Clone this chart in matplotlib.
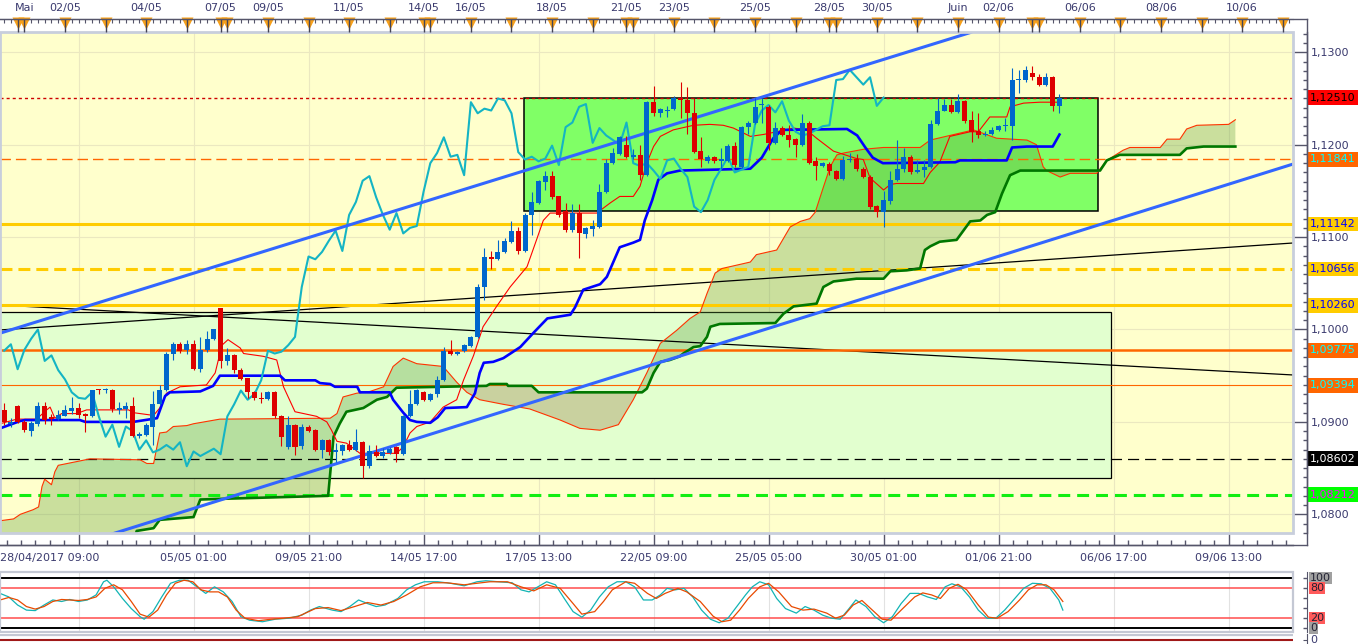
import numpy as np
import matplotlib
matplotlib.use('Agg')
import matplotlib.pyplot as plt
import matplotlib.ticker as mticker
import matplotlib.transforms as mtransforms
from matplotlib.lines import Line2D
from matplotlib.patches import Rectangle

plt.rcParams['font.family'] = ['DejaVu Sans']
plt.rcParams['lines.scale_dashes'] = False

# ---- 4h candles, index 0 = first bar on screen
opens = [1.0913, 1.0898, 1.0917, 1.0900, 1.0890, 1.0898, 1.0917, 1.0905, 1.0903, 1.0906,
         1.0912, 1.0915, 1.0909, 1.0906, 1.0935, 1.0934, 1.0935, 1.0913, 1.0914, 1.0917,
         1.0885, 1.0886, 1.0895, 1.0919, 1.0934, 1.0973, 1.0984, 1.0978, 1.0984, 1.0957,
         1.0978, 1.0990, 1.1023, 1.0966, 1.0972, 1.0956, 1.0947, 1.0932, 1.0926, 1.0925,
         1.0932, 1.0906, 1.0873, 1.0897, 1.0874, 1.0895, 1.0891, 1.0870, 1.0880, 1.0867,
         1.0868, 1.0875, 1.0870, 1.0878, 1.0852, 1.0867, 1.0863, 1.0866, 1.0873, 1.0865,
         1.0906, 1.0919, 1.0932, 1.0924, 1.0930, 1.0945, 1.0977, 1.0974, 1.0977, 1.0982,
         1.0992, 1.1046, 1.1078, 1.1076, 1.1084, 1.1095, 1.1107, 1.1085, 1.1124, 1.1137,
         1.1160, 1.1166, 1.1144, 1.1128, 1.1108, 1.1126, 1.1103, 1.1109, 1.1111, 1.1149,
         1.1180, 1.1190, 1.1200, 1.1187, 1.1189, 1.1167, 1.1246, 1.1234, 1.1236, 1.1239,
         1.1250, 1.1248, 1.1234, 1.1193, 1.1182, 1.1187, 1.1182, 1.1182, 1.1199, 1.1176,
         1.1219, 1.1223, 1.1243, 1.1241, 1.1202, 1.1218, 1.1211, 1.1206, 1.1200, 1.1224,
         1.1182, 1.1177, 1.1179, 1.1172, 1.1163, 1.1183, 1.1185, 1.1174, 1.1165, 1.1134,
         1.1127, 1.1139, 1.1162, 1.1174, 1.1187, 1.1170, 1.1173, 1.1176, 1.1222, 1.1237,
         1.1243, 1.1235, 1.1247, 1.1227, 1.1215, 1.1210, 1.1212, 1.1216, 1.1220, 1.1220,
         1.1270, 1.1270, 1.1278, 1.1273, 1.1265, 1.1273, 1.1242]
highs = [1.0920, 1.0904, 1.0918, 1.0902, 1.0901, 1.0922, 1.0921, 1.0909, 1.0913, 1.0918,
         1.0927, 1.0920, 1.0910, 1.0935, 1.0936, 1.0937, 1.0936, 1.0921, 1.0922, 1.0927,
         1.0889, 1.0899, 1.0933, 1.0940, 1.0976, 1.0987, 1.0986, 1.0989, 1.0989, 1.0992,
         1.0998, 1.1001, 1.1023, 1.0980, 1.0974, 1.0958, 1.0948, 1.0933, 1.0932, 1.0933,
         1.0933, 1.0907, 1.0906, 1.0898, 1.0898, 1.0897, 1.0892, 1.0882, 1.0882, 1.0877,
         1.0876, 1.0880, 1.0892, 1.0879, 1.0875, 1.0875, 1.0872, 1.0873, 1.0874, 1.0907,
         1.0935, 1.0936, 1.0933, 1.0931, 1.0950, 1.0981, 1.0989, 1.0977, 1.0984, 1.0993,
         1.1049, 1.1088, 1.1085, 1.1097, 1.1099, 1.1117, 1.1111, 1.1126, 1.1149, 1.1162,
         1.1171, 1.1172, 1.1145, 1.1137, 1.1136, 1.1136, 1.1111, 1.1119, 1.1158, 1.1185,
         1.1196, 1.1209, 1.1209, 1.1195, 1.1200, 1.1247, 1.1264, 1.1240, 1.1242, 1.1253,
         1.1268, 1.1262, 1.1250, 1.1208, 1.1189, 1.1188, 1.1196, 1.1201, 1.1203, 1.1220,
         1.1226, 1.1250, 1.1250, 1.1243, 1.1225, 1.1220, 1.1221, 1.1207, 1.1233, 1.1226,
         1.1187, 1.1181, 1.1181, 1.1173, 1.1188, 1.1191, 1.1190, 1.1176, 1.1167, 1.1135,
         1.1150, 1.1172, 1.1205, 1.1196, 1.1189, 1.1183, 1.1183, 1.1227, 1.1250, 1.1249,
         1.1249, 1.1255, 1.1248, 1.1236, 1.1234, 1.1215, 1.1219, 1.1221, 1.1229, 1.1283,
         1.1281, 1.1285, 1.1285, 1.1277, 1.1278, 1.1274, 1.1255]
lows = [1.0897, 1.0895, 1.0899, 1.0889, 1.0885, 1.0896, 1.0898, 1.0897, 1.0902, 1.0906,
        1.0909, 1.0904, 1.0889, 1.0905, 1.0930, 1.0931, 1.0911, 1.0909, 1.0904, 1.0884,
        1.0883, 1.0885, 1.0875, 1.0918, 1.0933, 1.0967, 1.0975, 1.0974, 1.0956, 1.0954,
        1.0976, 1.0989, 1.0958, 1.0962, 1.0953, 1.0945, 1.0926, 1.0924, 1.0920, 1.0924,
        1.0904, 1.0874, 1.0871, 1.0864, 1.0871, 1.0889, 1.0869, 1.0861, 1.0864, 1.0857,
        1.0864, 1.0868, 1.0868, 1.0839, 1.0850, 1.0862, 1.0861, 1.0865, 1.0857, 1.0864,
        1.0905, 1.0918, 1.0923, 1.0923, 1.0927, 1.0944, 1.0972, 1.0972, 1.0976, 1.0981,
        1.0991, 1.1032, 1.1066, 1.1075, 1.1083, 1.1094, 1.1082, 1.1084, 1.1102, 1.1136,
        1.1151, 1.1141, 1.1122, 1.1106, 1.1106, 1.1077, 1.1099, 1.1101, 1.1110, 1.1148,
        1.1179, 1.1189, 1.1186, 1.1184, 1.1162, 1.1166, 1.1231, 1.1230, 1.1230, 1.1238,
        1.1229, 1.1212, 1.1191, 1.1176, 1.1180, 1.1180, 1.1174, 1.1181, 1.1176, 1.1175,
        1.1212, 1.1222, 1.1223, 1.1194, 1.1201, 1.1209, 1.1198, 1.1187, 1.1199, 1.1179,
        1.1162, 1.1176, 1.1167, 1.1162, 1.1162, 1.1181, 1.1172, 1.1164, 1.1130, 1.1122,
        1.1111, 1.1136, 1.1161, 1.1170, 1.1168, 1.1169, 1.1165, 1.1175, 1.1221, 1.1236,
        1.1234, 1.1234, 1.1223, 1.1203, 1.1207, 1.1209, 1.1211, 1.1215, 1.1215, 1.1205,
        1.1256, 1.1268, 1.1270, 1.1264, 1.1264, 1.1236, 1.1234]
closes = [1.0900, 1.0900, 1.0900, 1.0891, 1.0899, 1.0917, 1.0902, 1.0903, 1.0907, 1.0913,
          1.0915, 1.0907, 1.0906, 1.0934, 1.0934, 1.0935, 1.0914, 1.0915, 1.0917, 1.0885,
          1.0887, 1.0897, 1.0919, 1.0935, 1.0973, 1.0984, 1.0977, 1.0984, 1.0957, 1.0978,
          1.0990, 1.1000, 1.0966, 1.0972, 1.0956, 1.0946, 1.0932, 1.0926, 1.0925, 1.0932,
          1.0906, 1.0884, 1.0897, 1.0873, 1.0895, 1.0890, 1.0870, 1.0880, 1.0867, 1.0870,
          1.0875, 1.0870, 1.0878, 1.0852, 1.0868, 1.0863, 1.0867, 1.0871, 1.0865, 1.0906,
          1.0919, 1.0934, 1.0924, 1.0930, 1.0945, 1.0977, 1.0974, 1.0976, 1.0983, 1.0992,
          1.1046, 1.1079, 1.1076, 1.1084, 1.1096, 1.1107, 1.1085, 1.1124, 1.1138, 1.1161,
          1.1166, 1.1143, 1.1124, 1.1108, 1.1126, 1.1104, 1.1110, 1.1112, 1.1149, 1.1180,
          1.1191, 1.1208, 1.1187, 1.1189, 1.1167, 1.1246, 1.1234, 1.1239, 1.1237, 1.1250,
          1.1248, 1.1234, 1.1192, 1.1184, 1.1187, 1.1182, 1.1185, 1.1199, 1.1178, 1.1219,
          1.1224, 1.1241, 1.1244, 1.1202, 1.1218, 1.1210, 1.1205, 1.1200, 1.1224, 1.1180,
          1.1177, 1.1180, 1.1172, 1.1163, 1.1183, 1.1185, 1.1174, 1.1165, 1.1133, 1.1127,
          1.1140, 1.1162, 1.1174, 1.1187, 1.1170, 1.1173, 1.1176, 1.1222, 1.1237, 1.1243,
          1.1235, 1.1247, 1.1226, 1.1214, 1.1210, 1.1212, 1.1216, 1.1220, 1.1221, 1.1270,
          1.1271, 1.1281, 1.1273, 1.1265, 1.1273, 1.1242, 1.1251]

# ---- ichimoku lines: (bar index, price)
tenkan_pts = [(-0.6, 1.0898), (1.9, 1.0903), (4.8, 1.0903), (6.3, 1.0913), (6.8, 1.0916), (7.5, 1.0904),
              (8.5, 1.0909), (10.7, 1.0909), (12.2, 1.0913), (18.4, 1.0913), (19.1, 1.0910), (22.1, 1.0907),
              (23.0, 1.0915), (24.0, 1.0931), (26.0, 1.0938), (29.9, 1.0940), (31.2, 1.0953), (32.2, 1.0983),
              (33.1, 1.0989), (34.9, 1.0980), (35.4, 1.0974), (38.3, 1.0971), (40.3, 1.0967), (41.3, 1.0938),
              (43.0, 1.0911), (46.2, 1.0906), (47.7, 1.0900), (48.4, 1.0891), (49.2, 1.0879), (50.6, 1.0877),
              (52.6, 1.0866), (58.0, 1.0866), (59.0, 1.0873), (60.0, 1.0888), (61.0, 1.0895), (63.0, 1.0900),
              (64.9, 1.0916), (66.9, 1.0924), (67.9, 1.0945), (69.4, 1.0972), (70.8, 1.1003), (72.8, 1.1025),
              (74.8, 1.1046), (77.3, 1.1068), (78.7, 1.1097), (79.7, 1.1118), (80.7, 1.1126), (87.6, 1.1126),
              (89.6, 1.1137), (91.0, 1.1144), (93.0, 1.1144), (94.0, 1.1155), (95.0, 1.1180), (96.0, 1.1198),
              (97.0, 1.1209), (98.9, 1.1216), (101.9, 1.1221), (104.3, 1.1222), (106.3, 1.1221), (107.8, 1.1218),
              (110.3, 1.1209), (112.2, 1.1211), (114.2, 1.1214), (116.7, 1.1218), (118.6, 1.1216), (120.1, 1.1207),
              (122.6, 1.1193), (126.0, 1.1185), (127.0, 1.1184), (128.0, 1.1164), (130.0, 1.1151), (131.0, 1.1157),
              (131.9, 1.1158), (135.9, 1.1158), (136.9, 1.1170), (138.3, 1.1181), (139.8, 1.1209), (142.8, 1.1214),
              (144.0, 1.1214), (145.7, 1.1230), (148.2, 1.1230), (148.7, 1.1241), (150.7, 1.1245), (153.1, 1.1246),
              (156.0, 1.1246)]
kijun_pts = [(-0.6, 1.0893), (2.4, 1.0901), (3.1, 1.0902), (11.2, 1.0902), (12.0, 1.0900), (19.1, 1.0900),
             (22.6, 1.0904), (23.8, 1.0928), (24.5, 1.0932), (29.0, 1.0933), (30.9, 1.0939), (31.9, 1.0950),
             (40.8, 1.0950), (41.5, 1.0945), (46.0, 1.0945), (46.7, 1.0942), (48.2, 1.0941), (48.9, 1.0938),
             (52.2, 1.0938), (52.6, 1.0932), (57.0, 1.0932), (57.5, 1.0924), (59.0, 1.0910), (60.0, 1.0902),
             (61.0, 1.0900), (63.0, 1.0899), (64.1, 1.0905), (65.2, 1.0915), (68.4, 1.0916), (69.6, 1.0931),
             (70.3, 1.0953), (70.9, 1.0964), (72.3, 1.0965), (73.8, 1.0969), (76.3, 1.0981), (78.2, 1.0996),
             (80.3, 1.1012), (83.7, 1.1016), (84.4, 1.1024), (85.6, 1.1043), (88.1, 1.1049), (89.1, 1.1057),
             (91.0, 1.1089), (93.0, 1.1094), (94.0, 1.1097), (94.7, 1.1118), (95.8, 1.1140), (96.7, 1.1162),
             (98.0, 1.1169), (99.9, 1.1172), (110.3, 1.1174), (112.0, 1.1186), (113.7, 1.1207), (115.0, 1.1216),
             (124.6, 1.1217), (126.1, 1.1210), (127.3, 1.1197), (128.4, 1.1186), (129.9, 1.1180), (140.6, 1.1181),
             (141.3, 1.1183), (148.2, 1.1183), (149.0, 1.1197), (151.2, 1.1198), (155.0, 1.1198), (156.0, 1.1211)]
senkou_a_pts = [(-0.6, 1.0793), (1.4, 1.0795), (2.4, 1.0800), (4.3, 1.0805), (5.1, 1.0808), (5.6, 1.0830),
                (6.0, 1.0838), (7.0, 1.0832), (7.5, 1.0846), (8.0, 1.0853), (10.7, 1.0857), (12.7, 1.0860),
                (20.1, 1.0859), (21.1, 1.0855), (22.1, 1.0855), (23.0, 1.0888), (24.0, 1.0889), (25.0, 1.0895),
                (27.0, 1.0896), (28.0, 1.0898), (31.9, 1.0903), (48.2, 1.0904), (49.2, 1.0909), (50.1, 1.0927),
                (52.1, 1.0931), (54.1, 1.0933), (56.1, 1.0938), (57.5, 1.0960), (59.0, 1.0969), (61.0, 1.0963),
                (64.9, 1.0960), (66.9, 1.0943), (68.4, 1.0932), (70.3, 1.0924), (73.8, 1.0919), (77.7, 1.0914),
                (82.2, 1.0902), (85.1, 1.0893), (88.1, 1.0891), (90.8, 1.0897), (93.0, 1.0924), (95.0, 1.0953),
                (97.0, 1.0985), (99.4, 1.0999), (101.4, 1.1012), (102.9, 1.1019), (103.9, 1.1039), (105.1, 1.1061),
                (106.1, 1.1066), (110.3, 1.1073), (111.2, 1.1081), (114.2, 1.1086), (116.2, 1.1111), (117.7, 1.1117),
                (119.1, 1.1120), (119.9, 1.1127), (121.1, 1.1154), (122.1, 1.1176), (123.1, 1.1189), (124.1, 1.1191),
                (127.0, 1.1195), (130.0, 1.1197), (135.4, 1.1197), (136.9, 1.1205), (139.8, 1.1210), (143.3, 1.1216),
                (146.7, 1.1207), (151.2, 1.1205), (152.6, 1.1200), (153.6, 1.1176), (154.1, 1.1172), (156.1, 1.1165),
                (157.6, 1.1169), (161.5, 1.1169), (163.0, 1.1183), (165.4, 1.1194), (166.4, 1.1197), (170.9, 1.1197),
                (171.9, 1.1206), (173.8, 1.1206), (174.8, 1.1217), (176.3, 1.1221), (181.0, 1.1222), (182.0, 1.1227)]
senkou_b_pts = [(-0.6, 1.0760), (19.0, 1.0766), (19.6, 1.0782), (22.1, 1.0785), (23.0, 1.0794), (28.0, 1.0797),
                (29.0, 1.0816), (33.4, 1.0817), (47.9, 1.0820), (48.2, 1.0844), (48.7, 1.0884), (49.6, 1.0898),
                (50.6, 1.0911), (53.1, 1.0915), (55.1, 1.0924), (56.6, 1.0927), (58.0, 1.0937), (71.3, 1.0939),
                (71.8, 1.0941), (74.3, 1.0941), (74.5, 1.0939), (78.0, 1.0939), (79.0, 1.0932), (94.3, 1.0932),
                (95.0, 1.0936), (96.0, 1.0953), (97.0, 1.0965), (98.4, 1.0967), (99.9, 1.0971), (100.4, 1.0974),
                (101.9, 1.0981), (102.9, 1.0982), (103.9, 1.0992), (104.4, 1.1003), (105.8, 1.1006), (114.0, 1.1007),
                (115.2, 1.1017), (116.7, 1.1025), (120.1, 1.1028), (121.1, 1.1046), (122.6, 1.1052), (126.0, 1.1055),
                (130.0, 1.1055), (131.0, 1.1063), (133.4, 1.1064), (135.4, 1.1066), (136.1, 1.1086), (136.9, 1.1090),
                (138.3, 1.1095), (140.8, 1.1097), (142.8, 1.1117), (144.3, 1.1118), (145.3, 1.1124), (146.5, 1.1127),
                (147.5, 1.1147), (148.7, 1.1167), (150.2, 1.1172), (162.0, 1.1172), (163.0, 1.1183), (164.9, 1.1189),
                (173.8, 1.1189), (174.8, 1.1196), (177.3, 1.1198), (182.0, 1.1198)]
chikou_shift = 26

# ---- drawn objects
upper_trend = [(-0.6, 1.0996), (143.1, 1.1322)]
lower_trend = [(15.65, 1.0778), (190.5, 1.1179)]
rising_line = [(-0.6, 1.09995), (190.5, 1.10936)]
falling_line = [(-0.6, 1.10265), (190.5, 1.09508)]
box_bright = (76.9, 161.7, 1.11282, 1.12502)
box_pale = (-5.0, 163.6, 1.08390, 1.10186)

levels = [1.12510, 1.11841, 1.11142, 1.10656, 1.10260, 1.09775, 1.09394, 1.08602, 1.08212]
level_colors = ['#cc0000', '#ff6600', '#ffcc00', '#ffcc00', '#ffcc00', '#ff6600', '#ff6600', '#000000', '#11ee11']
level_widths = [1.0, 1.0, 2.2, 2.2, 2.2, 1.8, 0.8, 0.9, 2.2]
level_dashes = [(2.2, 2.2), (7.5, 3.6), None, (8.6, 4.3), None, None, None, (8.0, 4.3), (8.6, 5.0)]
box_face = ['#ff0000', '#ff6600', '#ffcc00', '#ffcc00', '#ffcc00', '#ff6600', '#ff6600', '#000000', '#00ff00']
box_text = ['#000000', '#00ffff', '#0000ff', '#0000ff', '#0000ff', '#00ffff', '#00ffff', '#ffffff', '#ff00ff']

price_ticks = [1.08, 1.09, 1.10, 1.11, 1.12, 1.13]
grid_idx = [11, 28, 45, 62, 79, 96, 113, 130, 147, 164, 181]
bottom_labels = ['', '05/05 01:00', '09/05 21:00', '14/05 17:00', '17/05 13:00', '22/05 09:00',
                 '25/05 05:00', '30/05 01:00', '01/06 21:00', '06/06 17:00', '09/06 13:00']
first_label = '28/04/2017 09:00'
day_starts = [2, 3, 9, 15, 21, 27, 32, 33, 39, 45, 51, 57, 62, 63, 69, 75, 81, 87, 92, 93, 99, 105,
              111, 117, 122, 123, 129, 135, 141, 147, 152, 153, 159, 165, 171, 177, 183, 189]
day_labels = {3: 'Mai', 9: '02/05', 21: '04/05', 32: '07/05', 39: '09/05', 51: '11/05', 62: '14/05',
              69: '16/05', 81: '18/05', 92: '21/05', 99: '23/05', 111: '25/05', 122: '28/05',
              129: '30/05', 141: 'Juin', 147: '02/06', 159: '06/06', 171: '08/06', 183: '10/06'}

# ---- stochastic (%K, %D)
stoch_k_pts = [(-0.6, 69), (0.7, 62), (2.0, 46), (3.3, 36), (4.6, 35), (5.9, 46), (7.2, 56), (8.5, 53),
               (9.7, 57), (11.0, 53), (12.3, 56), (13.6, 66), (14.7, 92), (15.2, 95), (16.2, 82), (17.5, 59),
               (18.8, 39), (20.1, 23), (20.7, 18), (22.0, 33), (23.3, 62), (24.6, 89), (25.9, 95), (27.2, 95),
               (28.5, 82), (29.8, 69), (31.1, 82), (32.4, 72), (33.7, 53), (35.0, 23), (36.3, 16), (38.2, 13),
               (40.1, 18), (42.1, 20), (44.0, 26), (45.3, 36), (46.6, 43), (48.5, 36), (49.8, 33), (51.1, 43),
               (52.4, 56), (53.7, 49), (55.0, 43), (56.3, 46), (58.2, 59), (59.5, 76), (60.8, 86), (62.1, 92),
               (64.1, 92), (66.0, 89), (68.0, 84), (69.9, 92), (71.2, 94), (73.1, 92), (75.1, 90), (76.4, 76),
               (77.6, 72), (78.9, 82), (80.2, 92), (81.5, 86), (82.8, 59), (84.1, 33), (85.4, 22), (86.7, 36),
               (88.0, 62), (89.3, 82), (90.6, 92), (91.9, 92), (93.2, 82), (94.5, 56), (95.8, 56), (97.0, 66),
               (98.0, 79), (99.2, 76), (100.5, 79), (101.8, 62), (103.1, 36), (104.4, 18), (105.7, 11), (107.0, 20),
               (108.3, 43), (109.6, 66), (110.6, 82), (111.7, 92), (113.0, 86), (114.2, 59), (115.5, 39), (117.1, 30),
               (118.4, 43), (119.7, 36), (121.0, 26), (122.3, 20), (123.6, 18), (124.9, 39), (125.9, 56), (127.4, 43),
               (128.7, 23), (130.0, 11), (131.3, 23), (132.6, 49), (133.9, 69), (135.2, 69), (136.5, 62), (137.8, 57),
               (139.1, 82), (140.1, 88), (141.4, 82), (142.7, 62), (144.0, 36), (145.3, 20), (146.6, 20), (147.9, 36),
               (149.4, 59), (150.7, 79), (152.0, 89), (153.3, 88), (154.6, 79), (155.9, 56), (156.5, 36)]
stoch_d_pts = [(-0.6, 56), (0.7, 61), (2.0, 56), (3.3, 43), (4.6, 38), (5.9, 43), (7.2, 53), (8.5, 57),
               (9.7, 56), (11.0, 55), (12.3, 57), (13.6, 62), (14.9, 79), (16.2, 86), (17.5, 76), (18.8, 53),
               (20.1, 28), (21.4, 22), (22.7, 36), (24.0, 66), (25.3, 89), (26.6, 95), (27.9, 92), (29.1, 76),
               (30.4, 72), (31.7, 72), (33.0, 62), (34.3, 36), (35.6, 20), (37.6, 15), (39.5, 18), (41.4, 20),
               (43.4, 23), (44.7, 31), (46.0, 39), (47.9, 41), (49.8, 35), (51.8, 43), (53.7, 51), (55.7, 46),
               (57.6, 53), (59.5, 66), (61.5, 82), (63.4, 90), (65.4, 90), (68.0, 86), (69.9, 89), (71.8, 92),
               (74.4, 92), (76.4, 82), (78.3, 74), (80.2, 86), (82.2, 79), (84.1, 49), (85.4, 28), (87.3, 33),
               (88.6, 53), (89.9, 76), (91.9, 92), (93.2, 89), (95.1, 69), (96.4, 59), (97.7, 69), (99.6, 79),
               (100.9, 72), (102.9, 53), (104.8, 24), (106.1, 13), (107.4, 16), (108.7, 36), (110.0, 59), (111.7, 82),
               (113.0, 89), (114.5, 72), (116.4, 43), (118.1, 36), (119.7, 38), (121.6, 30), (122.9, 20), (124.2, 26),
               (125.5, 46), (126.8, 55), (128.1, 39), (129.8, 18), (131.1, 16), (132.6, 36), (134.6, 62), (135.8, 70),
               (137.1, 66), (138.4, 59), (139.7, 79), (141.0, 87), (142.3, 76), (144.0, 46), (145.5, 22), (146.8, 20),
               (148.4, 33), (150.1, 56), (151.4, 76), (152.7, 86), (154.0, 86), (155.2, 76), (156.5, 53)]
stoch_levels = [0, 20, 80, 100]

# ---- layout (pixels of the 1365x644 picture)
W, H = 1365, 644
PLOT_R, MAIN_T, MAIN_B = 1293, 31.7, 533
AXIS_X, TOP_Y, BOT_Y = 1307, 19, 545
PX = 0.72  # points per pixel at 100 dpi
AXC = '#55556a'
TXT = '#3a3a6e'
BLUE_C, RED_C = '#0066cc', '#dd0000'


def fx(px):
    return px / W


def fy(py):
    return 1 - py / H


fig = plt.figure(figsize=(W / 100, H / 100), dpi=100, facecolor='white')

ax = fig.add_axes([0, fy(MAIN_B), fx(PLOT_R), (MAIN_B - MAIN_T) / H])
ax.set_facecolor('#ffffcc')
x_lo, x_hi = -0.606, 190.52
ax.set_xlim(x_lo, x_hi)
ax.set_ylim(1.077976, 1.132229)
ax.set_axisbelow(True)

for s in ['left', 'top']:
    ax.spines[s].set_visible(False)
ax.spines['right'].set_position(('outward', (AXIS_X - PLOT_R) * PX))
ax.spines['bottom'].set_position(('outward', (BOT_Y - MAIN_B) * PX))
for s in ['right', 'bottom']:
    ax.spines[s].set_color(AXC)
    ax.spines[s].set_linewidth(1)

ax.yaxis.tick_right()
ax.yaxis.set_major_locator(mticker.FixedLocator(price_ticks))
ax.yaxis.set_minor_locator(mticker.MultipleLocator(0.001))
ax.yaxis.set_major_formatter(mticker.FuncFormatter(lambda v, p: f'{v:.4f}'.replace('.', ',')))
ax.tick_params(axis='y', which='major', direction='in', length=10, width=1, color=AXC,
               labelsize=8, labelcolor=TXT, pad=2.5)
ax.tick_params(axis='y', which='minor', direction='in', length=3, width=1, color=AXC)

ax.xaxis.set_major_locator(mticker.FixedLocator(grid_idx))
ax.xaxis.set_major_formatter(mticker.FixedFormatter(bottom_labels))
ax.xaxis.set_minor_locator(mticker.FixedLocator(np.arange(11 - 2.125 * 5, 191, 2.125)))
ax.tick_params(axis='x', which='major', direction='in', length=8.6, width=1, color=AXC,
               labelsize=8, labelcolor=TXT, pad=6)
ax.tick_params(axis='x', which='minor', direction='in', length=3.4, width=1, color=AXC)
ax.grid(True, which='major', color='#ebe8c0', lw=0.8)

# top date axis
ax_top = ax.twiny()
ax_top.set_xlim(x_lo, x_hi)
for s in ['left', 'right', 'bottom']:
    ax_top.spines[s].set_visible(False)
ax_top.spines['top'].set_position(('outward', (MAIN_T - TOP_Y) * PX))
ax_top.spines['top'].set_color(AXC)
ax_top.xaxis.set_major_locator(mticker.FixedLocator(day_starts))
ax_top.xaxis.set_major_formatter(mticker.FixedFormatter([day_labels.get(d, '') for d in day_starts]))
ax_top.xaxis.set_minor_locator(mticker.MultipleLocator(1))
ax_top.tick_params(axis='x', which='major', direction='in', length=(MAIN_T - TOP_Y) * PX, width=1,
                   color='#444455', labelsize=8, labelcolor=TXT, pad=4.5)
ax_top.tick_params(axis='x', which='minor', direction='in', length=3, width=0.8, color=AXC)

tri_y = (MAIN_B - 23.5) / (MAIN_B - MAIN_T)
ax.plot(day_starts, [tri_y] * len(day_starts), 'v', color='#f7a01a', ms=8, mec='none',
        transform=mtransforms.blended_transform_factory(ax.transData, ax.transAxes),
        clip_on=False, zorder=8)

# rectangles
x0, x1, y0, y1 = box_pale
ax.add_patch(Rectangle((x0, y0), x1 - x0, y1 - y0, fc='#e2ffcf', ec='black', lw=0.9, zorder=1))
x0, x1, y0, y1 = box_bright
ax.add_patch(Rectangle((x0, y0), x1 - x0, y1 - y0, fc='#80ff66', ec='black', lw=1.1, zorder=1.1))

# cloud
ax_x, ax_y = np.array(senkou_a_pts).T
bx_x, bx_y = np.array(senkou_b_pts).T
cx = np.union1d(ax_x, bx_x)
ca = np.interp(cx, ax_x, ax_y)
cb = np.interp(cx, bx_x, bx_y)
ax.fill_between(cx, ca, cb, where=ca >= cb, interpolate=True, color='#5a9e3a', alpha=0.32, lw=0, zorder=1.5)
ax.fill_between(cx, ca, cb, where=ca < cb, interpolate=True, color='#96703c', alpha=0.32, lw=0, zorder=1.5)

# level lines
for lv, col, lw, ds in zip(levels, level_colors, level_widths, level_dashes):
    line = ax.axhline(lv, color=col, lw=lw, zorder=2.2)
    if ds:
        line.set_dashes(ds)

# black guide lines
for pts in (rising_line, falling_line):
    px_, py_ = np.array(pts).T
    ax.plot(px_, py_, color='black', lw=0.9, zorder=2)

# ichimoku lines
ax.plot(ax_x, ax_y, color='#ff3300', lw=0.8, zorder=3)
ax.plot(bx_x, bx_y, color='#007700', lw=1.9, zorder=3)
tx, ty = np.array(tenkan_pts).T
ax.plot(tx, ty, color='#ff0000', lw=0.8, zorder=3.1)
kx, ky = np.array(kijun_pts).T
ax.plot(kx, ky, color='#0000ff', lw=1.9, zorder=3.1)
bars = np.arange(len(closes))
ax.plot(bars[:-chikou_shift], closes[chikou_shift:], color='#14b4c4', lw=1.5, zorder=3.2)

# trend lines
for pts in (upper_trend, lower_trend):
    px_, py_ = np.array(pts).T
    ax.plot(px_, py_, color='#3366ff', lw=2.2, zorder=3.5, solid_capstyle='butt')

# candles
o = np.array(opens)
c = np.array(closes)
cols = np.where(c >= o, BLUE_C, RED_C)
ax.vlines(bars, lows, highs, colors=cols, lw=0.8, zorder=4)
ax.bar(bars, np.maximum(np.abs(c - o), 0.00012), bottom=np.minimum(o, c), width=0.74,
       color=cols, lw=0, zorder=4.1)

# plot frame
ax.add_patch(Rectangle((0, 0), 1, 1, transform=ax.transAxes, fill=False, ec='#c8cedc', lw=2,
                       clip_on=False, zorder=6))

# price boxes on the right axis
lbl_tr = mtransforms.blended_transform_factory(fig.transFigure, ax.transData)
for lv, fc, tc in zip(levels, box_face, box_text):
    ax.text(fx(1310), lv, f'{lv:.5f}'.replace('.', ','), transform=lbl_tr, ha='left', va='center',
            fontsize=8, color=tc, clip_on=False, zorder=10,
            bbox=dict(boxstyle='square,pad=0.2', fc=fc, ec='none'))

fig.text(fx(0.5), fy(558), first_label, ha='left', va='center', fontsize=8, color=TXT)

# axis lines joining the corners
for xs, ys in (([0, AXIS_X], [TOP_Y, TOP_Y]), ([AXIS_X, AXIS_X], [TOP_Y, BOT_Y]), ([0, AXIS_X], [BOT_Y, BOT_Y])):
    fig.add_artist(Line2D([fx(v) for v in xs], [fy(v) for v in ys], color=AXC, lw=1))

# ---- stochastic panel
ax2 = fig.add_axes([0, fy(632), fx(PLOT_R), 60 / H])
ax2.set_xlim(x_lo, x_hi)
ax2.set_ylim(-7.3, 111.3)
for s in ['left', 'top', 'bottom']:
    ax2.spines[s].set_visible(False)
ax2.spines['right'].set_position(('outward', (AXIS_X - PLOT_R) * PX))
ax2.spines['right'].set_color(AXC)
ax2.yaxis.tick_right()
ax2.set_yticks([0, 20, 40, 60, 80, 100])
ax2.tick_params(axis='y', direction='in', length=3, width=1, color=AXC, labelright=False)
ax2.set_xticks(grid_idx)
ax2.tick_params(axis='x', length=0, labelbottom=False)
ax2.grid(True, axis='x', color='#e2e2e2', lw=0.8)
ax2.set_axisbelow(True)
for lv in stoch_levels:
    is_edge = lv in (0, 100)
    ax2.axhline(lv, color='black' if is_edge else '#ff4d4d', lw=1.4 if is_edge else 1.1, zorder=2)
kx2, kv2 = np.array(stoch_k_pts).T
dx2, dv2 = np.array(stoch_d_pts).T
ax2.plot(kx2, kv2, color='#12b4b4', lw=0.9, zorder=3)
ax2.plot(dx2, dv2, color='#e84a00', lw=0.9, zorder=3.1)
ax2.add_patch(Rectangle((0, 0), 1, 1, transform=ax2.transAxes, fill=False, ec='#c4c8d4', lw=1.6,
                        clip_on=False, zorder=6))
st_tr = mtransforms.blended_transform_factory(fig.transFigure, ax2.transData)
for lv, fc in zip([100, 80, 20, 0], ['#a0a0a0', '#ff5a5a', '#ff5a5a', '#a0a0a0']):
    ax2.text(fx(1310), lv, str(lv), transform=st_tr, ha='left', va='center', fontsize=8,
             color='#222233', clip_on=False, zorder=10,
             bbox=dict(boxstyle='square,pad=0.08', fc=fc, ec='none'))

# ---- bottom strip
ax3 = fig.add_axes([0, 0, fx(PLOT_R), 10 / H])
ax3.set_xlim(x_lo, x_hi)
ax3.set_ylim(-1, 1)
ax3.set_facecolor('white')
for s in ['left', 'top', 'bottom']:
    ax3.spines[s].set_visible(False)
ax3.spines['right'].set_position(('outward', (AXIS_X - PLOT_R) * PX))
ax3.spines['right'].set_color(AXC)
ax3.set_xticks([])
ax3.yaxis.tick_right()
ax3.set_yticks([-0.2])
ax3.tick_params(axis='y', direction='in', length=3, color=AXC, labelright=False)
ax3.axhline(0.8, color='#c4c8d4', lw=1.6)
ax3.axhline(-0.2, color='#a01818', lw=1.5)
ax3.text(fx(1310), -0.2, '0', transform=mtransforms.blended_transform_factory(fig.transFigure, ax3.transData),
         ha='left', va='center', fontsize=8, color=TXT, clip_on=False)

fig.savefig('out.png', dpi=100, facecolor='white')
